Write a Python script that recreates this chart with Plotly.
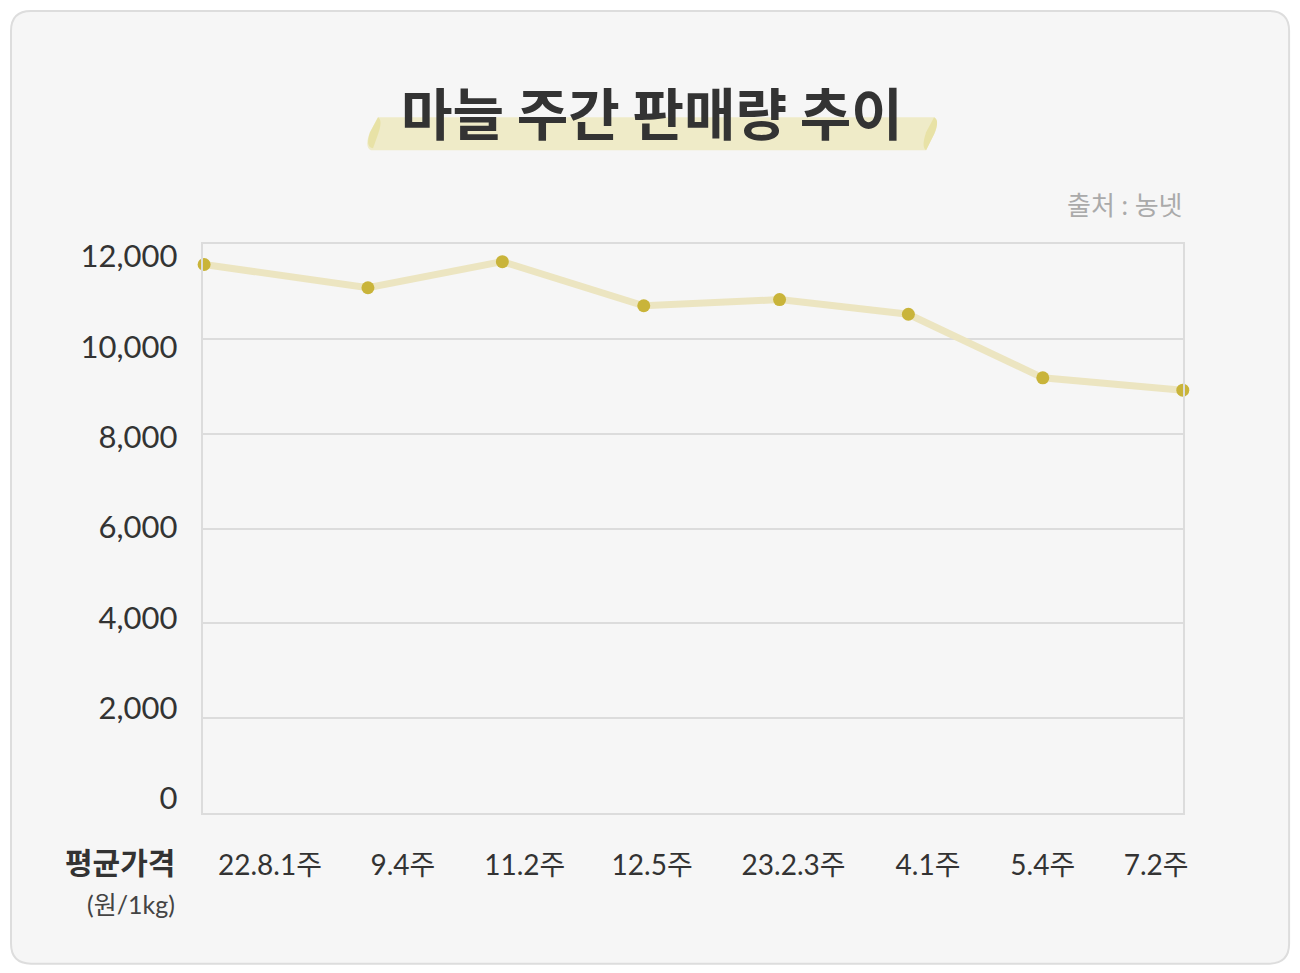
import plotly.graph_objects as go

# ---- data ----
weeks = ["22.8.1주", "9.4주", "11.2주", "12.5주", "23.2.3주", "4.1주", "5.4주", "7.2주"]
price = [11570, 11080, 11630, 10700, 10830, 10520, 9180, 8920]
point_x = [0.01, 1.18, 2.14, 3.15, 4.12, 5.04, 6.00, 7.00]
label_x = [0.48, 1.43, 2.30, 3.21, 4.22, 5.18, 6.00, 6.81]
y_ticks = [0, 2000, 4000, 6000, 8000, 10000, 12000]
y_ticktext = ["0", "2,000", "4,000", "6,000", "8,000", "10,000", "12,000"]

W, H = 1300, 973
# small calibration between layout pixels and the photographed page
SX, SY, OY = 0.9953, 0.987, 8.0
def px(x):
    return (x / SX) / W
def py(y):
    return 1 - ((y - OY) / SY) / H

FONT = "Lato, 'Noto Sans CJK KR', sans-serif"
KFONT = "'Noto Sans CJK KR', sans-serif"

fig = go.Figure()
fig.add_trace(go.Scatter(
    x=point_x, y=price, mode="lines+markers",
    line=dict(color="#ece5c1", width=7),
    marker=dict(color="#c9b43a", size=13, line=dict(width=0)),
    cliponaxis=False, showlegend=False, hoverinfo="skip",
))
# empty trace to host the label axis
fig.add_trace(go.Scatter(x=[], y=[], yaxis="y2", showlegend=False, hoverinfo="skip"))

shapes = []
# card
x0, y0, x1, y1, r = 11, 11, 1289, 962, 20
card = (f"M {px(x0+r)},{py(y0)} L {px(x1-r)},{py(y0)} "
        f"Q {px(x1)},{py(y0)} {px(x1)},{py(y0+r)} L {px(x1)},{py(y1-r)} "
        f"Q {px(x1)},{py(y1)} {px(x1-r)},{py(y1)} L {px(x0+r)},{py(y1)} "
        f"Q {px(x0)},{py(y1)} {px(x0)},{py(y1-r)} L {px(x0)},{py(y0+r)} "
        f"Q {px(x0)},{py(y0)} {px(x0+r)},{py(y0)} Z")
shapes.append(dict(type="path", path=card, xref="paper", yref="paper",
                   fillcolor="#f6f6f6", line=dict(color="#dddddd", width=2), layer="below"))
# highlight band under title
band = (f"M {px(378)},{py(117)} L {px(934)},{py(117)} "
        f"Q {px(940)},{py(120)} {px(934)},{py(134)} L {px(926)},{py(150)} "
        f"L {px(371)},{py(150)} Q {px(364)},{py(147)} {px(370)},{py(132)} Z")
shapes.append(dict(type="path", path=band, xref="paper", yref="paper",
                   fillcolor="#efebc8", line=dict(width=0), layer="below"))
shapes.append(dict(type="path",
                   path=(f"M {px(378)},{py(117)} Q {px(383)},{py(120)} {px(378)},{py(134)} "
                         f"L {px(373)},{py(148)} Q {px(365)},{py(147)} {px(370)},{py(132)} Z"),
                   xref="paper", yref="paper", fillcolor="#e8e2a6", line=dict(width=0), layer="below"))
shapes.append(dict(type="path",
                   path=(f"M {px(934)},{py(117)} Q {px(940)},{py(120)} {px(934)},{py(134)} "
                         f"L {px(926)},{py(150)} Q {px(921)},{py(147)} {px(926)},{py(132)} Z"),
                   xref="paper", yref="paper", fillcolor="#e8e2a6", line=dict(width=0), layer="below"))

annotations = [
    dict(text="<b>마늘 주간 판매량 추이</b>", x=px(652), y=py(110), xref="paper", yref="paper",
         showarrow=False, xanchor="center", yanchor="middle",
         font=dict(family=KFONT, size=56, color="#333333")),
    dict(text="출처 : 농넷", x=px(1185), y=py(205), xref="paper", yref="paper",
         showarrow=False, xanchor="right", yanchor="middle",
         font=dict(family=FONT, size=26, color="#aaaaaa")),
    dict(text="<b>평균가격</b>", x=px(177), y=py(860), xref="paper", yref="paper",
         showarrow=False, xanchor="right", yanchor="middle",
         font=dict(family=KFONT, size=30, color="#333333")),
    dict(text="(원/1kg)", x=px(177), y=py(902), xref="paper", yref="paper",
         showarrow=False, xanchor="right", yanchor="middle",
         font=dict(family=FONT, size=25, color="#444444")),
]

fig.update_layout(
    width=W, height=H,
    margin=dict(l=0, r=0, t=0, b=0),
    paper_bgcolor="#ffffff", plot_bgcolor="rgba(0,0,0,0)",
    shapes=shapes, annotations=annotations,
    xaxis=dict(domain=[px(202.7), px(1182.7)], range=[0, 7],
               showgrid=False, zeroline=False,
               showline=True, mirror=True, linecolor="#dcdcdc", linewidth=2,
               tickmode="array", tickvals=label_x, ticktext=weeks,
               ticks="outside", ticklen=26, tickcolor="rgba(0,0,0,0)",
               tickfont=dict(family=FONT, size=28, color="#333333")),
    yaxis=dict(domain=[py(811.7), py(243.7)], range=[0, 12000],
               tickmode="array", tickvals=y_ticks, showticklabels=False,
               showgrid=True, gridcolor="#dcdcdc", gridwidth=2, zeroline=False,
               showline=True, mirror=True, linecolor="#dcdcdc", linewidth=2,
               ticks=""),
    yaxis2=dict(overlaying="y", side="left", range=[-326, 12273],
                tickmode="array", tickvals=y_ticks, ticktext=y_ticktext,
                showgrid=False, zeroline=False, showline=False,
                ticks="outside", ticklen=18, tickcolor="rgba(0,0,0,0)",
                tickfont=dict(family=FONT, size=31, color="#333333")),
)

post = ("document.body.style.margin='0';"
        "document.body.style.overflow='hidden';")
fig.write_html("out.html", post_script=post, config={"displayModeBar": False})
